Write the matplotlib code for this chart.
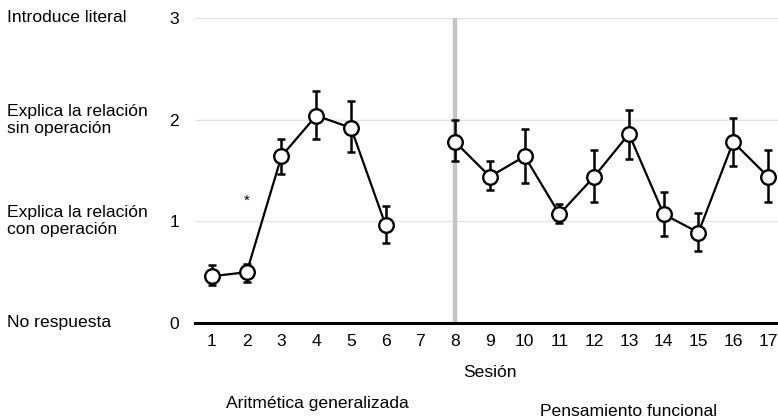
import numpy as np
import matplotlib.pyplot as plt

plt.rcParams['font.family'] = ['Liberation Sans', 'DejaVu Sans']

# data
sessions_a = [1, 2, 3, 4, 5, 6]
mean_a = [0.46, 0.50, 1.64, 2.04, 1.92, 0.96]
upper_a = [0.57, 0.58, 1.81, 2.28, 2.18, 1.15]
lower_a = [0.37, 0.40, 1.47, 1.81, 1.68, 0.79]

sessions_b = [8, 9, 10, 11, 12, 13, 14, 15, 16, 17]
mean_b = [1.78, 1.44, 1.64, 1.07, 1.44, 1.86, 1.07, 0.89, 1.78, 1.44]
upper_b = [2.00, 1.59, 1.91, 1.17, 1.70, 2.10, 1.29, 1.08, 2.02, 1.70]
lower_b = [1.59, 1.31, 1.38, 0.98, 1.19, 1.61, 0.86, 0.71, 1.54, 1.19]

x_ticks = list(range(1, 18))
y_ticks = [0, 1, 2, 3]
level_labels = ['No respuesta', 'Explica la relación\ncon operación',
                'Explica la relación\nsin operación', 'Introduce literal']
star_session, star_value = 2, 1.2

FS = 12.6

fig = plt.figure(figsize=(7.78, 4.18), dpi=100)
ax = fig.add_axes([195 / 778, 95 / 418, 583 / 778, 305 / 418])
ax.set_xlim(0.511, 17.29)
ax.set_ylim(0, 3)

for y in y_ticks[1:]:
    ax.axhline(y, color='#e3e3e3', lw=1.0, zorder=0)
ax.axvline(8, color='#c4c4c4', lw=3.2, zorder=1)

for xs, m, up, lo in [(sessions_a, mean_a, upper_a, lower_a),
                      (sessions_b, mean_b, upper_b, lower_b)]:
    m = np.array(m)
    err = [m - np.array(lo), np.array(up) - m]
    ax.errorbar(xs, m, yerr=err, fmt='none', ecolor='black', elinewidth=1.8,
                capsize=3, capthick=1.8, zorder=2)
    ax.plot(xs, m, color='black', lw=1.6, marker='o', markersize=10.5,
            markerfacecolor='white', markeredgecolor='black', markeredgewidth=1.7,
            zorder=3, clip_on=False)

ax.text(star_session, star_value, '*', ha='center', va='center', fontsize=11)

for s in ['top', 'right', 'left']:
    ax.spines[s].set_visible(False)
ax.spines['bottom'].set_linewidth(2.2)
ax.spines['bottom'].set_zorder(4)

ax.set_xticks(x_ticks)
ax.set_yticks(y_ticks)
ax.tick_params(axis='both', length=0, labelsize=FS, colors='black')
ax.tick_params(axis='x', pad=8)
ax.tick_params(axis='y', pad=11.5)

for y, lab in zip(y_ticks, level_labels):
    ax.text(7 / 778, ax.transData.transform((0, y))[1] / 418, lab,
            transform=fig.transFigure, ha='left', va='center', fontsize=FS,
            linespacing=1.15)

fig.text(490 / 778, 1 - 377 / 418, 'Sesión', ha='center', va='baseline', fontsize=FS)
fig.text(317 / 778, 1 - 408 / 418, 'Aritmética generalizada', ha='center', va='baseline', fontsize=FS)
fig.text(629 / 778, 1 - 416 / 418, 'Pensamiento funcional', ha='center', va='baseline', fontsize=FS)

fig.savefig('out.png', dpi=100)
